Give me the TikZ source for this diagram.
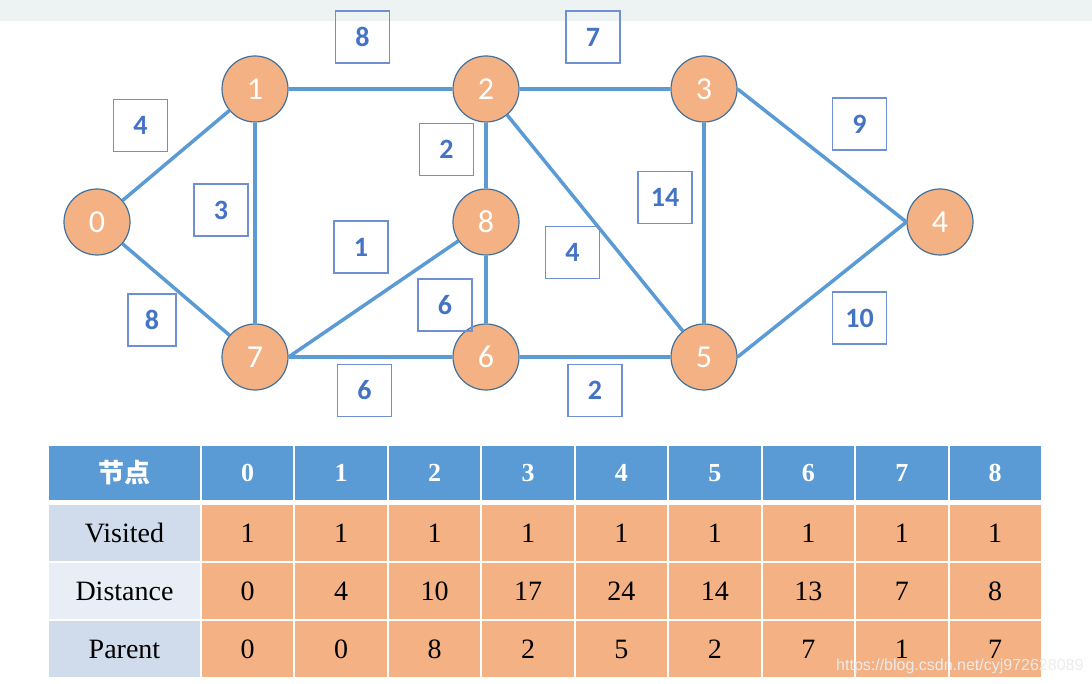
\documentclass[tikz,border=0pt]{standalone}
\usepackage{fontspec}
\setmainfont{Liberation Serif}
\newfontfamily\calfont{Carlito}
\newfontfamily\cjkfont{Noto Sans CJK SC}
\newfontfamily\wmfont{Liberation Sans}
\usetikzlibrary{positioning}
\definecolor{linkblue}{HTML}{5B9BD5}
\definecolor{vtxfill}{HTML}{F4B183}
\definecolor{vtxline}{HTML}{41719C}
\definecolor{boxline}{HTML}{6F8FD3}
\definecolor{boxtext}{HTML}{4472C4}
\definecolor{rowdark}{HTML}{D0DBEC}
\definecolor{rowlight}{HTML}{E9EDF5}
\definecolor{topbar}{HTML}{EDF2F2}

\begin{document}
\begin{tikzpicture}[x=1pt, y=-1pt,
     node distance = 0pt and 0pt, on grid,
        vtx/.style = {circle, draw=vtxline, line width=1.2pt, fill=vtxfill, minimum size=66pt, inner sep=0pt,
                      text=white, font=\calfont\fontsize{32}{32}\selectfont},
       wbox/.style = {rectangle, draw=boxline, line width=1.2pt, minimum width=54pt, minimum height=52pt, inner sep=0pt,
                      text=boxtext, font=\calfont\bfseries\fontsize{28}{28}\selectfont},
       link/.style = {draw=linkblue, line width=3.5pt},
      hcell/.style = {rectangle, draw=white, line width=2pt, fill=linkblue, minimum width=93.44pt, minimum height=56pt,
                      inner sep=0pt, text=white, font=\bfseries\fontsize{26}{26}\selectfont},
      dcell/.style = {rectangle, draw=white, line width=2pt, fill=vtxfill, minimum width=93.44pt, minimum height=58pt,
                      inner sep=0pt, font=\fontsize{28}{28}\selectfont},
      rcell/.style = {rectangle, draw=white, line width=2pt, minimum width=153pt, minimum height=58pt,
                      inner sep=0pt, font=\fontsize{28}{28}\selectfont},
      wmark/.style = {text=white!85!gray, inner sep=0pt, font=\wmfont\fontsize{16}{16}\selectfont}
                        ]
\useasboundingbox (0,0) rectangle (1092,684);
\fill[topbar] (0,0) rectangle (1092,21);
% graph
\node (n1) [vtx] at (255,89) {1};
\node (n2) [vtx, right=231pt of n1] {2};
\node (n3) [vtx, right=218pt of n2] {3};
\node (n8) [vtx, below=133pt of n2] {8};
\node (n6) [vtx, below=135pt of n8] {6};
\node (n7) [vtx, left=231pt of n6] {7};
\node (n5) [vtx, right=218pt of n6] {5};
\node (n0) [vtx, left=389pt of n8] {0};
\node (n4) [vtx, right=454pt of n8] {4};
\draw[link] (n0) -- (n1);
\draw[link] (n0) -- (n7);
\draw[link] (n1) -- (n2);
\draw[link] (n1) -- (n7);
\draw[link] (n2) -- (n3);
\draw[link] (n2) -- (n8);
\draw[link] (n2) -- (n5);
\draw[link] (n7.east) -- (n8);
\draw[link] (n8) -- (n6);
\draw[link] (n7) -- (n6);
\draw[link] (n6) -- (n5);
\draw[link] (n3) -- (n5);
\draw[link] (n3.east) -- (n4.west);
\draw[link] (n5.east) -- (n4.west);
% weights
\node (w01) [wbox] at (140.5,125.5) {4};
\node (w07) [wbox, minimum width=48pt] at (152,320) {8};
\node (w12) [wbox] at (362.5,37) {8};
\node (w17) [wbox] at (221,210) {3};
\node (w23) [wbox] at (593,37) {7};
\node (w28) [wbox] at (446.5,149.5) {2};
\node (w25) [wbox] at (572.5,252.5) {4};
\node (w78) [wbox] at (361,247) {1};
\node (w86) [wbox] at (445,305) {6};
\node (w76) [wbox] at (364.5,390.5) {6};
\node (w65) [wbox] at (595,390.5) {2};
\node (w35) [wbox] at (665,197.5) {14};
\node (w34) [wbox] at (859.5,124) {9};
\node (w54) [wbox] at (859.5,318) {10};
% table
\node (hh) [hcell, minimum width=153pt] at (124.5,473) {\cjkfont 节点};
\node (rv) [rcell, fill=rowdark] at (124.5,533) {Visited};
\node (rd) [rcell, fill=rowlight] at (124.5,591) {Distance};
\node (rp) [rcell, fill=rowdark] at (124.5,649) {Parent};
\foreach \i in {0,...,8}
  {\node (h\i) [hcell] at ({247.7+93.44*\i},473) {\i};
   \node (v\i) [dcell] at ({247.7+93.44*\i},533) {1};}
\foreach \d [count=\i from 0] in {0,4,10,17,24,14,13,7,8}
  \node (d\i) [dcell] at ({247.7+93.44*\i},591) {\d};
\foreach \p [count=\i from 0] in {0,0,8,2,5,2,7,1,7}
  \node (p\i) [dcell] at ({247.7+93.44*\i},649) {\p};
\node (wm) [wmark, anchor=west] at (836,666) {https://blog.csdn.net/cyj972628089};
\end{tikzpicture}
\end{document}
